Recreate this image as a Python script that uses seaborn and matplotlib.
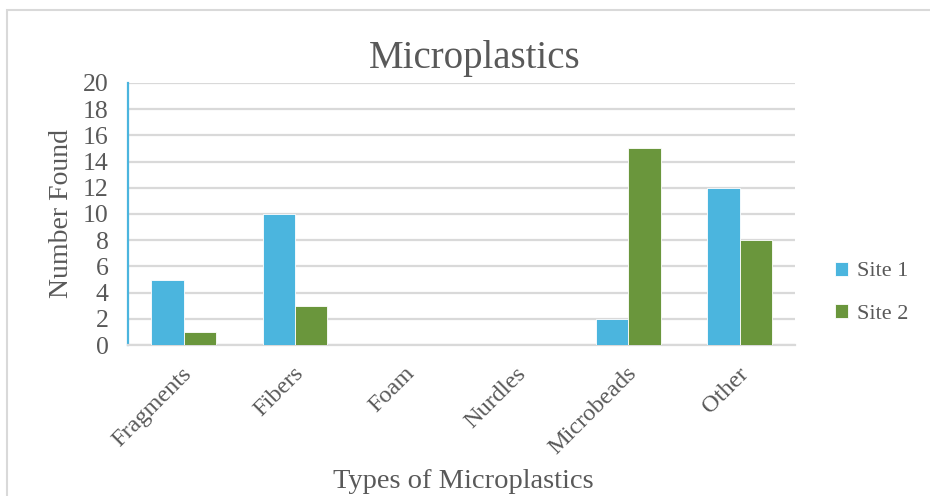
import matplotlib
matplotlib.use("Agg")
import matplotlib.pyplot as plt
import matplotlib.transforms as mtransforms
import seaborn as sns
import pandas as pd
from matplotlib.patches import Rectangle

categories = ["Fragments", "Fibers", "Foam", "Nurdles", "Microbeads", "Other"]
site1 = [5, 10, 0, 0, 2, 12]
site2 = [1, 3, 0, 0, 15, 8]
series_names = ["Site 1", "Site 2"]
yticks = list(range(0, 21, 2))

df = pd.DataFrame({
    "Type": categories * 2,
    "Count": site1 + site2,
    "Site": [series_names[0]] * len(categories) + [series_names[1]] * len(categories),
})

sns.set_theme(style="white")
plt.rcParams["font.family"] = ["Liberation Serif", "DejaVu Serif"]

text_color = "#595959"
grid_color = "#d9d9d9"
palette = {"Site 1": "#4bb5de", "Site 2": "#6a963c"}

fig = plt.figure(figsize=(9.3, 4.96), dpi=100)
ax = fig.add_axes([0.1376, 0.3044, 0.855 - 0.1376, 0.8327 - 0.3044])

sns.barplot(data=df, x="Type", y="Count", hue="Site", palette=palette,
            order=categories, hue_order=series_names, width=0.58,
            saturation=1, ax=ax, zorder=3, edgecolor="white", linewidth=0.6)

ax.set_ylim(0, 20)
ax.set_yticks(yticks)
ax.set_xlim(-0.5, len(categories) - 0.5)
ax.yaxis.grid(True, color=grid_color, linewidth=1.6, zorder=0)
ax.set_axisbelow(True)

for side in ["top", "right"]:
    ax.spines[side].set_visible(False)
ax.spines["bottom"].set_color(grid_color)
ax.spines["bottom"].set_linewidth(1.6)
ax.spines["left"].set_color("#4bb5de")
ax.spines["left"].set_linewidth(1.6)

ax.tick_params(axis="y", which="major", direction="out", length=6, width=1.6,
               color="#4bb5de", labelsize=18.5, labelcolor=text_color, pad=8)
ax.tick_params(axis="x", which="major", length=0, labelsize=17.5,
               labelcolor=text_color, pad=13)
shift = mtransforms.ScaledTranslation(-2 / 100, 0, fig.dpi_scale_trans)
for lbl in ax.get_xticklabels():
    lbl.set_rotation(45)
    lbl.set_ha("right")
    lbl.set_rotation_mode("anchor")
    lbl.set_transform(lbl.get_transform() + shift)

ax.set_xlabel("Types of Microplastics", fontsize=20.5, color=text_color, va="center")
ax.xaxis.set_label_coords(0.502, -0.522)
ax.set_ylabel("Number Found", fontsize=20, color=text_color, labelpad=6)
ax.set_title("Microplastics", fontsize=28, color=text_color, pad=11, x=0.52)

handles, labels = ax.get_legend_handles_labels()
ax.legend(handles, labels, loc="center left", bbox_to_anchor=(1.03, 0.2),
          frameon=False, fontsize=16, labelcolor=text_color,
          handlelength=0.6, handleheight=0.6, handletextpad=0.4,
          labelspacing=1.0)

fig.patches.append(Rectangle((0.008, -0.05), 1.05, 1.03, transform=fig.transFigure,
                             fill=False, edgecolor="#d9d9d9", linewidth=1.5))

fig.savefig("out.png", dpi=100)
